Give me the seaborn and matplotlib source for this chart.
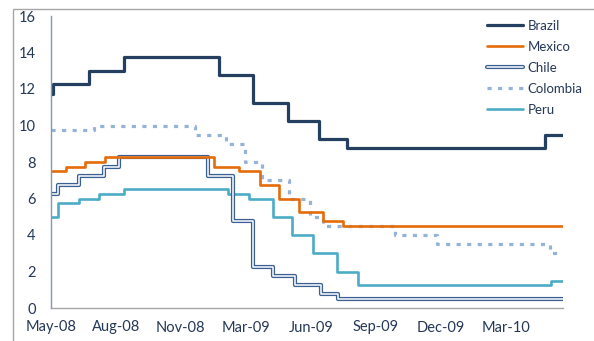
import matplotlib
matplotlib.use("Agg")
import matplotlib.pyplot as plt
from matplotlib.lines import Line2D
from matplotlib.patches import Rectangle
import seaborn as sns
import pandas as pd

# x positions are in units of the (evenly spaced) tick periods of the category axis
TICK_LABELS = ["May-08", "Aug-08", "Nov-08", "Mar-09", "Jun-09", "Sep-09", "Dec-09", "Mar-10"]
X_END = 7.88

brazil_x = [0, 0.03, 0.585, 1.125, 2.58, 3.11, 3.65, 4.13, 4.56, 7.61]
brazil_y = [11.75, 12.25, 13.0, 13.75, 12.75, 11.25, 10.25, 9.25, 8.75, 9.5]

mexico_x = [0, 0.23, 0.52, 0.83, 2.51, 2.90, 3.22, 3.51, 3.82, 4.19, 4.50]
mexico_y = [7.5, 7.75, 8.0, 8.25, 7.75, 7.5, 6.75, 6.0, 5.25, 4.75, 4.5]

chile_x = [0, 0.11, 0.43, 0.82, 1.05, 2.42, 2.80, 3.11, 3.42, 3.76, 4.16, 4.42]
chile_y = [6.25, 6.75, 7.25, 7.75, 8.25, 7.25, 4.75, 2.25, 1.75, 1.25, 0.75, 0.5]

colombia_x = [0, 0.66, 2.22, 2.70, 2.99, 3.25, 3.67, 3.99, 4.19, 5.30, 5.95, 7.69]
colombia_y = [9.75, 10.0, 9.5, 9.0, 8.0, 7.0, 6.0, 5.0, 4.5, 4.0, 3.5, 3.0]

peru_x = [0, 0.11, 0.43, 0.74, 1.125, 2.73, 3.05, 3.42, 3.71, 4.04, 4.41, 4.73, 7.70]
peru_y = [5.0, 5.75, 6.0, 6.25, 6.5, 6.25, 6.0, 5.0, 4.0, 3.0, 2.0, 1.25, 1.5]

series = [
    ("Brazil", brazil_x, brazil_y),
    ("Mexico", mexico_x, mexico_y),
    ("Chile", chile_x, chile_y),
    ("Colombia", colombia_x, colombia_y),
    ("Peru", peru_x, peru_y),
]

frames = []
for name, xs, ys in series:
    # carry the last rate to the right edge of the axis
    frames.append(pd.DataFrame({"country": name, "x": list(xs) + [X_END], "rate": list(ys) + [ys[-1]]}))
df = pd.concat(frames, ignore_index=True)

NAVY = "#243f60"
ORANGE = "#e46c0a"
CHILE = "#3a5f92"
COLOMBIA = "#95b3d7"
PERU = "#4bacc6"
TEXT = "#253858"

sns.set_style("white")
plt.rcParams["font.family"] = ["Lato", "DejaVu Sans"]

fig = plt.figure(figsize=(5.94, 3.41), dpi=100)
ax = fig.add_axes([51 / 594, 1 - 308 / 341, (562.7 - 51) / 594, (308 - 16) / 341])

def draw(name, **kw):
    sns.lineplot(data=df[df.country == name], x="x", y="rate", ax=ax,
                 drawstyle="steps-post", estimator=None, sort=False, legend=False, **kw)
    return ax.lines[-1]

col = draw("Colombia", color=COLOMBIA, linewidth=2.3)
col.set_dashes((1.3, 2.0))
col.set_dash_capstyle("butt")
draw("Peru", color=PERU, linewidth=1.9)
draw("Chile", color=CHILE, linewidth=3.0)
draw("Chile", color="white", linewidth=1.1)
draw("Mexico", color=ORANGE, linewidth=1.9)
draw("Brazil", color=NAVY, linewidth=2.3)

ax.set_xlim(0, X_END)
ax.set_ylim(0, 16)
ax.set_yticks(range(0, 17, 2))
ax.set_xticks(range(len(TICK_LABELS)))
ax.set_xticklabels(TICK_LABELS)
ax.set_xlabel("")
ax.set_ylabel("")

for s in ["top", "right"]:
    ax.spines[s].set_visible(False)
ax.spines["left"].set_color("#8497b0")
ax.spines["left"].set_linewidth(1.0)
ax.spines["bottom"].set_color("#a6a6a6")
ax.spines["bottom"].set_linewidth(1.0)
ax.tick_params(axis="x", direction="out", length=3, width=0.8, color="#a6a6a6",
               pad=6, labelsize=10.5, labelcolor=TEXT)
ax.tick_params(axis="y", length=0, pad=11, labelsize=10.5, labelcolor=TEXT)

handles = [
    Line2D([], [], color=NAVY, linewidth=2.3),
    Line2D([], [], color=ORANGE, linewidth=1.9),
    (Line2D([], [], color=CHILE, linewidth=3.0), Line2D([], [], color="white", linewidth=1.1)),
    Line2D([], [], color=COLOMBIA, linewidth=2.3, dashes=(1.3, 2.0), dash_capstyle="butt"),
    Line2D([], [], color=PERU, linewidth=1.9),
]
labels = [s[0] for s in series]
fig.legend(handles, labels, loc="upper left", bbox_to_anchor=(487 / 594, 1 - 20 / 341),
           frameon=False, fontsize=9.5, handlelength=2.7, handletextpad=0.38,
           labelspacing=0.68, borderpad=0, borderaxespad=0, labelcolor=TEXT)

# light frame of the original chart area
fig.patches.append(Rectangle((13 / 594, -0.1), 1.2, 1 - 9 / 341 + 0.1, transform=fig.transFigure,
                             fill=False, edgecolor="#a6a6a6", linewidth=1.0, clip_on=False))

fig.savefig("out.png", dpi=100)
